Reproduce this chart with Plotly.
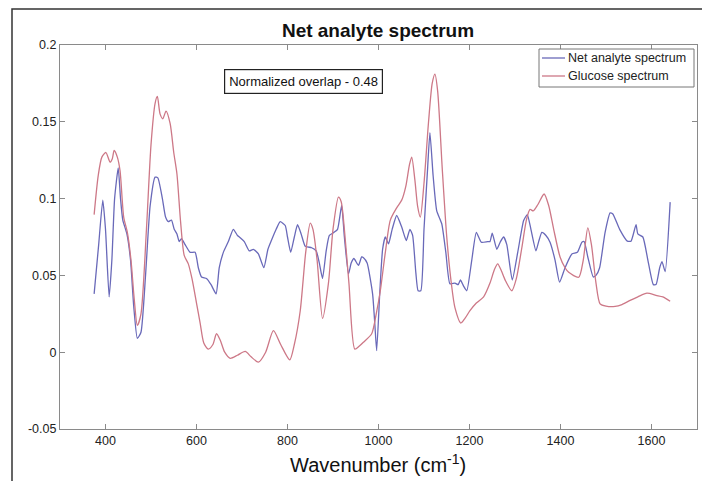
import plotly.graph_objects as go

# Net analyte spectrum (blue)
net_wn = [375, 385, 394, 400, 408, 414, 420, 428, 433, 438, 447, 455, 462, 470, 478, 488, 498, 509, 515, 525,
          532, 538, 545, 551, 557, 562, 567, 575, 586, 597, 604, 611, 622, 632, 643, 650, 659, 670, 681, 690,
          696, 705, 716, 725, 736, 748, 757, 765, 775, 784, 795, 800, 807, 815, 822, 830, 839, 853, 863, 870,
          877, 885, 892, 902, 910, 919, 925, 934, 940, 946, 956, 963, 967, 975, 987, 992, 996, 1003, 1009, 1015,
          1022, 1030, 1040, 1051, 1061, 1069, 1075, 1082, 1087, 1093, 1100, 1108, 1113, 1120, 1128, 1139, 1148,
          1157, 1168, 1175, 1180, 1187, 1194, 1205, 1215, 1226, 1240, 1245, 1250, 1260, 1268, 1275, 1282, 1294,
          1306, 1319, 1327, 1335, 1346, 1352, 1359, 1368, 1377, 1388, 1398, 1410, 1425, 1437, 1447, 1452, 1460,
          1472, 1478, 1486, 1498, 1509, 1515, 1530, 1547, 1555, 1566, 1570, 1581, 1592, 1604, 1610, 1618, 1623,
          1630, 1641]
net_abs = [0.038, 0.070, 0.099, 0.080, 0.036, 0.060, 0.100, 0.120, 0.100, 0.086, 0.077, 0.060, 0.030, 0.009, 0.013,
           0.050, 0.095, 0.114, 0.1135, 0.100, 0.088, 0.085, 0.086, 0.080, 0.077, 0.072, 0.074, 0.070, 0.065, 0.065,
           0.055, 0.049, 0.048, 0.044, 0.038, 0.055, 0.065, 0.072, 0.080, 0.076, 0.0745, 0.072, 0.066, 0.067, 0.064,
           0.055, 0.067, 0.073, 0.080, 0.085, 0.0825, 0.075, 0.065, 0.075, 0.083, 0.077, 0.069, 0.068, 0.066, 0.058,
           0.048, 0.066, 0.076, 0.078, 0.080, 0.0955, 0.075, 0.051, 0.058, 0.061, 0.0565, 0.062, 0.0615, 0.058, 0.038,
           0.018, 0.001, 0.040, 0.067, 0.075, 0.0705, 0.080, 0.089, 0.0815, 0.0727, 0.080, 0.076, 0.052, 0.040, 0.040,
           0.080, 0.120, 0.143, 0.115, 0.092, 0.0836, 0.065, 0.0445, 0.045, 0.044, 0.047, 0.043, 0.040, 0.060, 0.078,
           0.0716, 0.072, 0.072, 0.0775, 0.067, 0.072, 0.075, 0.070, 0.047, 0.065, 0.0857, 0.0896, 0.080, 0.066,
           0.072, 0.078, 0.076, 0.0716, 0.060, 0.0456, 0.055, 0.064, 0.065, 0.0716, 0.072, 0.062, 0.049, 0.050,
           0.055, 0.078, 0.0907, 0.090, 0.080, 0.0723, 0.0723, 0.083, 0.077, 0.075, 0.060, 0.044, 0.044, 0.055,
           0.059, 0.0525, 0.0977]

# Glucose spectrum (red)
glu_wn = [375, 384, 392, 401, 410, 415, 419, 426, 432, 440, 448, 456, 463, 470, 478, 490, 500, 509, 514, 520,
          526, 533, 542, 550, 557, 565, 573, 582, 590, 600, 608, 616, 626, 636, 644, 652, 662, 674, 690, 707,
          720, 736, 752, 769, 785, 805, 815, 828, 840, 850, 856, 865, 877, 890, 900, 912, 918, 925, 935, 948,
          958, 967, 985, 995, 1004, 1015, 1026, 1040, 1051, 1060, 1068, 1073, 1080, 1086, 1092, 1100, 1110, 1118,
          1124, 1130, 1140, 1150, 1160, 1168, 1181, 1190, 1201, 1215, 1231, 1245, 1255, 1262, 1270, 1280, 1293,
          1303, 1315, 1325, 1333, 1340, 1350, 1364, 1374, 1385, 1399, 1410, 1418, 1440, 1450, 1460, 1468, 1478,
          1487, 1500, 1520, 1535, 1553, 1570, 1590, 1610, 1625, 1641]
glu_abs = [0.0896, 0.115, 0.127, 0.130, 0.1237, 0.126, 0.1313, 0.127, 0.118, 0.088, 0.078, 0.060, 0.035, 0.0174,
           0.025, 0.080, 0.135, 0.162, 0.1665, 0.155, 0.152, 0.157, 0.149, 0.130, 0.116, 0.085, 0.063, 0.0575,
           0.048, 0.032, 0.019, 0.006, 0.002, 0.005, 0.012, 0.008, 0.000, -0.004, -0.002, 0.0005, -0.003, -0.0065,
           0.000, 0.014, 0.005, -0.005, 0.005, 0.027, 0.065, 0.084, 0.080, 0.060, 0.022, 0.045, 0.080, 0.101, 0.098,
           0.080, 0.045, 0.002, 0.004, 0.0065, 0.012, 0.025, 0.040, 0.065, 0.086, 0.094, 0.099, 0.108, 0.122, 0.127,
           0.112, 0.095, 0.088, 0.110, 0.150, 0.175, 0.181, 0.170, 0.120, 0.075, 0.045, 0.029, 0.019, 0.022, 0.027,
           0.032, 0.036, 0.045, 0.054, 0.0575, 0.053, 0.046, 0.040, 0.048, 0.068, 0.086, 0.093, 0.092, 0.096, 0.103,
           0.0955, 0.080, 0.062, 0.055, 0.052, 0.0488, 0.060, 0.081, 0.070, 0.045, 0.0315, 0.030, 0.0298, 0.031,
           0.0337, 0.036, 0.0384, 0.037, 0.036, 0.0332]

series_names = ["Net analyte spectrum", "Glucose spectrum"]
x_ticks = [400, 600, 800, 1000, 1200, 1400, 1600]
y_ticks = [-0.05, 0, 0.05, 0.1, 0.15, 0.2]
y_tick_labels = ["-0.05", "0", "0.05", "0.1", "0.15", "0.2"]

FONT = "Liberation Sans, Arial, sans-serif"
BLUE = "rgb(105,105,185)"
RED = "rgb(205,120,135)"
COLORS = [BLUE, RED]

fig = go.Figure()
fig.add_trace(go.Scatter(x=net_wn, y=net_abs, mode="lines", name=series_names[0], showlegend=False,
                         line=dict(color=BLUE, width=1.3, shape="spline", smoothing=0.5)))
fig.add_trace(go.Scatter(x=glu_wn, y=glu_abs, mode="lines", name=series_names[1], showlegend=False,
                         line=dict(color=RED, width=1.3, shape="spline", smoothing=0.7)))

# page body has an 8px margin: work in page pixels, convert to figure pixels
OFF = 8
PAGE_W, PAGE_H = 710, 481
W, H = PAGE_W - OFF, PAGE_H - OFF
PL, PR, PT, PB = 60, 697, 45, 429
L, T = PL - OFF, PT - OFF
R, B = W - (PR - OFF), H - (PB - OFF)
pw, ph = PR - PL, PB - PT

def px_to_paper(px, py):
    return (px - PL) / pw, (PB - py) / ph

axis_common = dict(showline=True, mirror="ticks", linecolor="#8a8a8a", linewidth=1.2,
                   ticks="inside", ticklen=5, tickcolor="#8a8a8a", showgrid=False, zeroline=False,
                   tickfont=dict(family=FONT, size=12.5, color="#222"))

fig.update_layout(
    width=W, height=H,
    margin=dict(l=L, r=R, t=T, b=B),
    paper_bgcolor="white", plot_bgcolor="white",
    title=dict(text="<b>Net analyte spectrum</b>", x=(378 - OFF) / W, xanchor="center",
               y=1 - (30 - OFF) / H, yanchor="middle", yref="container",
               font=dict(family=FONT, size=19, color="#111")),
    xaxis=dict(range=[300, 1700], tickvals=x_ticks, **axis_common),
    yaxis=dict(range=[-0.05, 0.2], tickvals=y_ticks, ticktext=y_tick_labels, **axis_common),
    showlegend=False,
)

# outer frame
fx0, fy1 = px_to_paper(12, 9)
fx1, fy0 = px_to_paper(707, 500)
fig.add_shape(type="rect", xref="paper", yref="paper", x0=fx0, x1=fx1, y0=fy0, y1=fy1,
              line=dict(color="#333", width=1.5), fillcolor="rgba(0,0,0,0)", layer="below")

# legend box (drawn by hand to match the compact MATLAB-style legend)
lx0, ly1 = px_to_paper(539, 49)
lx1, ly0 = px_to_paper(694, 87)
fig.add_shape(type="rect", xref="paper", yref="paper", x0=lx0, x1=lx1, y0=ly0, y1=ly1,
              line=dict(color="#777", width=1), fillcolor="white", layer="above")
for i, (name, col) in enumerate(zip(series_names, COLORS)):
    ypx = 58 + 18 * i
    sx0, sy = px_to_paper(542, ypx)
    sx1, _ = px_to_paper(565, ypx)
    fig.add_shape(type="line", xref="paper", yref="paper", x0=sx0, x1=sx1, y0=sy, y1=sy,
                  line=dict(color=col, width=1.3), layer="above")
    tx, _ = px_to_paper(566, ypx)
    fig.add_annotation(x=tx, y=sy, xref="paper", yref="paper", text=name, showarrow=False,
                       xanchor="left", yanchor="middle",
                       font=dict(family=FONT, size=12.5, color="#222"))

ax, ay = px_to_paper(303, 82)
fig.add_annotation(x=ax, y=ay, xref="paper", yref="paper", text="Normalized overlap - 0.48",
                   showarrow=False, xanchor="center", yanchor="middle",
                   font=dict(family=FONT, size=13, color="#111"),
                   bordercolor="#222", borderwidth=1.2, borderpad=4, bgcolor="white")

tx, ty = px_to_paper(378, 463)
fig.add_annotation(x=tx, y=ty, xref="paper", yref="paper", text="Wavenumber (cm<sup>-1</sup>)",
                   showarrow=False, font=dict(family=FONT, size=20, color="#111"),
                   xanchor="center", yanchor="middle")

fig.write_html("out.html")
